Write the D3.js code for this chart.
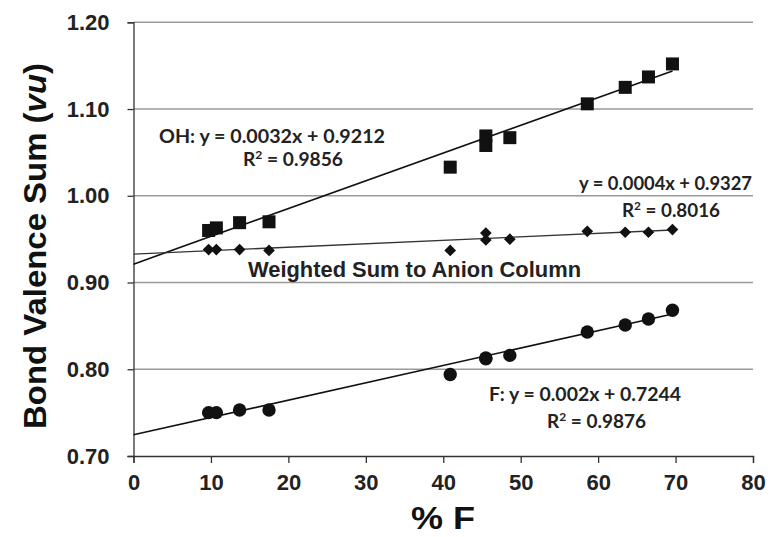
<!DOCTYPE html>
<html>
<head>
<meta charset="utf-8">
<script src="https://cdn.jsdelivr.net/npm/d3@7"></script>
<style>
  html, body { margin: 0; padding: 0; background: #fff; }
  svg { display: block; }
</style>
</head>
<body>
<svg id="chart" width="770" height="537"></svg>
<script>
// % F content of each sample
const pctF = [9.7, 10.7, 13.7, 17.5, 40.9, 45.5, 45.5, 48.6, 58.6, 63.5, 66.5, 69.6];
// Bond valence sums (vu)
const ohBVS = [0.960, 0.963, 0.969, 0.970, 1.033, 1.069, 1.058, 1.067, 1.106, 1.125, 1.137, 1.152];
const weightedBVS = [0.938, 0.938, 0.938, 0.937, 0.937, 0.957, 0.949, 0.950, 0.959, 0.958, 0.958, 0.961];
const fBVS = [0.750, 0.750, 0.753, 0.753, 0.794, 0.813, 0.812, 0.816, 0.843, 0.851, 0.858, 0.868];

// Linear fits [slope, intercept] and their R²
const ohFit = [0.0032, 0.9212], ohR2 = "0.9856";
const wFit = [0.0004, 0.9327], wR2 = "0.8016";
const fFit = [0.002, 0.7244], fR2 = "0.9876";

const xTicks = [0, 10, 20, 30, 40, 50, 60, 70, 80];
const yTicks = [0.70, 0.80, 0.90, 1.00, 1.10, 1.20];

const svg = d3.select("#chart");
const plotL = 133.5, plotR = 753, plotT = 22.3, plotB = 456;

const x = d3.scaleLinear().domain([0, 80]).range([plotL, plotR]);
const y = d3.scaleLinear().domain([0.70, 1.20]).range([plotB, plotT]);

const tickFont = "'Liberation Sans', Arial, sans-serif";
const noteFont = "Lato, 'Open Sans', sans-serif";

// horizontal gridlines
svg.append("g")
  .selectAll("line")
  .data(yTicks.slice(1))
  .join("line")
  .attr("x1", plotL).attr("x2", plotR)
  .attr("y1", d => y(d)).attr("y2", d => y(d))
  .attr("stroke", "#9a9a9a").attr("stroke-width", 1.5);

// axes
const yAxis = svg.append("g")
  .attr("transform", `translate(${plotL},0)`)
  .call(d3.axisLeft(y).tickValues(yTicks).tickFormat(d3.format(".2f")).tickSize(6).tickPadding(18));
const xAxis = svg.append("g")
  .attr("transform", `translate(0,${plotB})`)
  .call(d3.axisBottom(x).tickValues(xTicks).tickFormat(d3.format("d")).tickSize(7).tickPadding(11));
[yAxis, xAxis].forEach(g => {
  g.select(".domain").attr("stroke", "#333").attr("stroke-width", 1.3);
  g.selectAll(".tick line").attr("stroke", "#333").attr("stroke-width", 1.3);
  g.selectAll(".tick text")
    .attr("fill", "#222")
    .style("font-family", tickFont)
    .style("font-weight", "bold")
    .style("font-size", "22px");
});

// trend lines from x = 0 to the last sample
const xMax = d3.max(pctF);
[ohFit, wFit, fFit].forEach((f, i) => {
  svg.append("line")
    .attr("x1", x(0)).attr("y1", y(f[1]))
    .attr("x2", x(xMax)).attr("y2", y(f[0] * xMax + f[1]))
    .attr("stroke", i === 1 ? "#333" : "#111")
    .attr("stroke-width", i === 1 ? 1.3 : 1.6);
});

// markers
const pts = (vals) => pctF.map((v, i) => [v, vals[i]]);
svg.append("g").selectAll("rect")
  .data(pts(ohBVS)).join("rect")
  .attr("x", d => x(d[0]) - 6.5).attr("y", d => y(d[1]) - 6.5)
  .attr("width", 13).attr("height", 13)
  .attr("fill", "#111");
svg.append("g").selectAll("path")
  .data(pts(weightedBVS)).join("path")
  .attr("d", d3.symbol(d3.symbolSquare, 68))
  .attr("transform", d => `translate(${x(d[0])},${y(d[1])}) rotate(45)`)
  .attr("fill", "#111");
svg.append("g").selectAll("circle")
  .data(pts(fBVS)).join("circle")
  .attr("cx", d => x(d[0])).attr("cy", d => y(d[1]))
  .attr("r", 6.7)
  .attr("fill", "#111");

// equation labels
function eqLabel(px, py, len, prefix, fit) {
  svg.append("text")
    .attr("x", px).attr("y", py)
    .attr("textLength", len).attr("lengthAdjust", "spacingAndGlyphs")
    .style("font-family", noteFont).style("font-weight", "bold").style("font-size", "19px")
    .attr("fill", "#222")
    .text(`${prefix}y = ${fit[0]}x + ${fit[1]}`);
}
function r2Label(px, py, len, r2) {
  const t = svg.append("text")
    .attr("x", px).attr("y", py)
    .attr("textLength", len).attr("lengthAdjust", "spacingAndGlyphs")
    .style("font-family", noteFont).style("font-weight", "bold").style("font-size", "19px")
    .attr("fill", "#222");
  t.append("tspan").text("R");
  t.append("tspan").attr("dy", -7).style("font-size", "12px").text("2");
  t.append("tspan").attr("dy", 7).text(` = ${r2}`);
}
eqLabel(159, 143, 226, "OH: ", ohFit);
r2Label(243, 166, 100, ohR2);
eqLabel(579, 190, 173, "", wFit);
r2Label(622, 217, 98, wR2);
eqLabel(489, 401, 192, "F: ", fFit);
r2Label(547, 428, 99, fR2);

svg.append("text")
  .attr("x", 248).attr("y", 277)
  .attr("textLength", 333).attr("lengthAdjust", "spacingAndGlyphs")
  .style("font-family", tickFont).style("font-weight", "bold").style("font-size", "22px")
  .attr("fill", "#222")
  .text("Weighted Sum to Anion Column");

// axis titles
svg.append("text")
  .attr("x", 443).attr("y", 529)
  .attr("text-anchor", "middle")
  .attr("textLength", 64).attr("lengthAdjust", "spacingAndGlyphs")
  .style("font-family", tickFont).style("font-weight", "bold").style("font-size", "32px")
  .attr("fill", "#111")
  .text("% F");

const yt = svg.append("text")
  .attr("transform", "translate(46,246) rotate(-90)")
  .attr("text-anchor", "middle")
  .attr("textLength", 366).attr("lengthAdjust", "spacingAndGlyphs")
  .style("font-family", tickFont).style("font-weight", "bold").style("font-size", "31px")
  .attr("fill", "#111");
yt.append("tspan").text("Bond Valence Sum (");
yt.append("tspan").style("font-style", "italic").text("vu");
yt.append("tspan").text(")");
</script>
</body>
</html>
